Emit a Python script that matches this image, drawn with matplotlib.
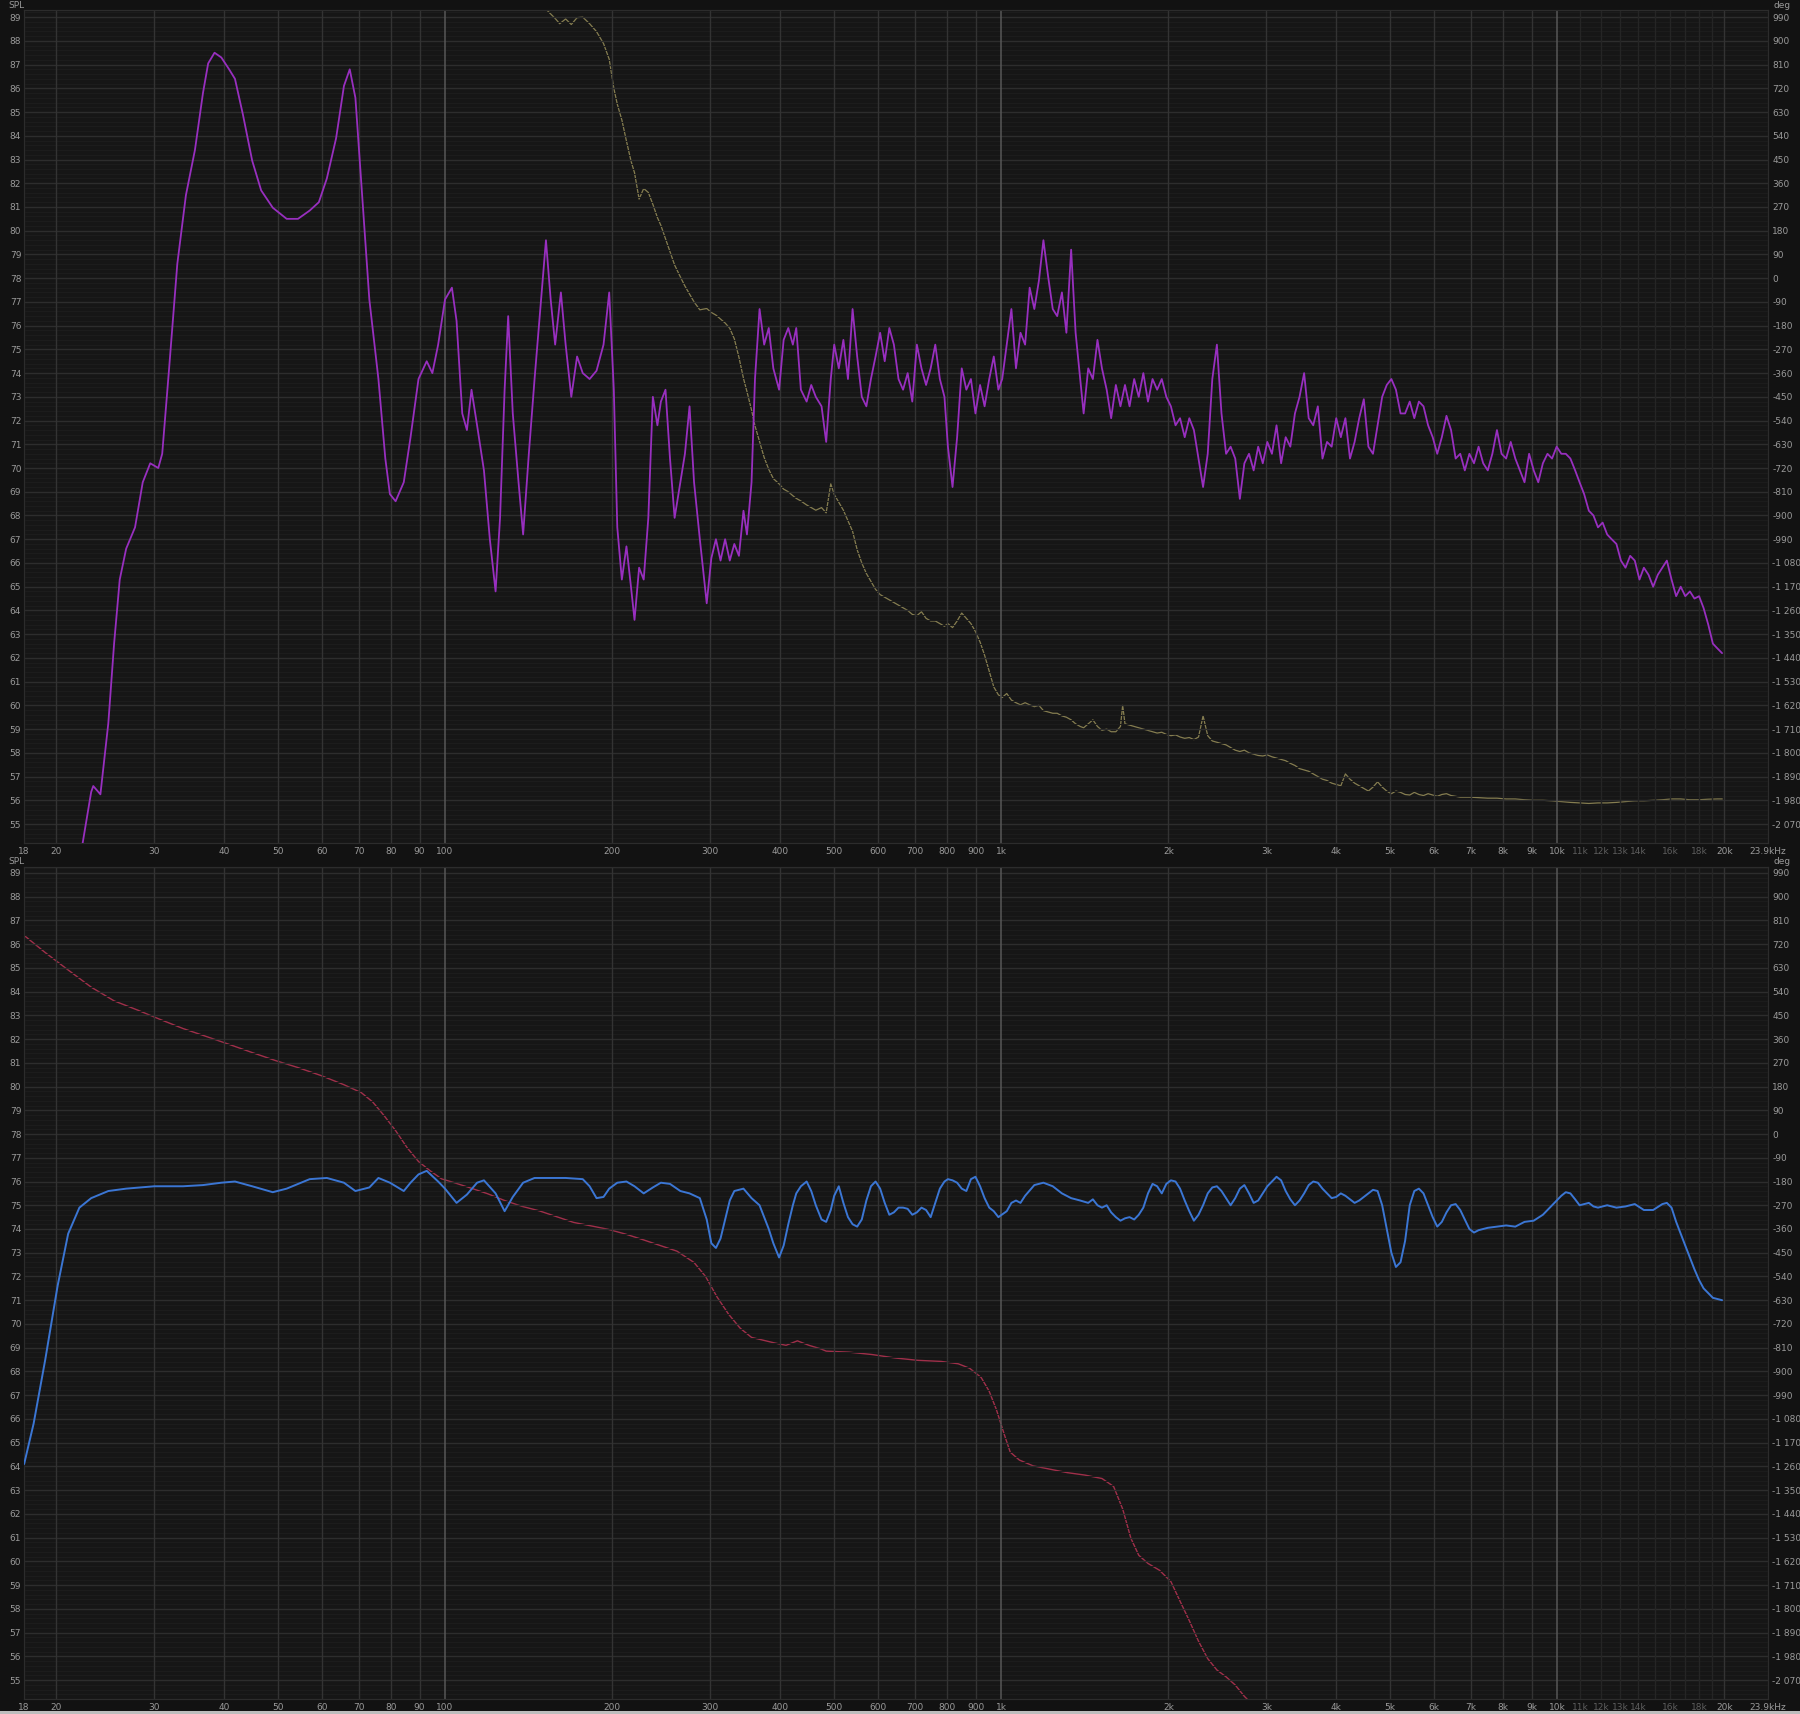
import numpy as np
import matplotlib.pyplot as plt
from matplotlib.patches import Rectangle

# Верхний график: АЧХ (фиолетовая) и фаза (оливковая), пары (Гц, значение)
top_spl = [
    (22.3, 54.2), (23.1, 56.35), (23.3, 56.6), (24.0, 56.25), (24.8, 59.25), (25.4, 62.6),
    (26.0, 65.3), (26.7, 66.6), (27.7, 67.5), (28.6, 69.4), (29.5, 70.2), (30.5, 70.0),
    (31.0, 70.6), (31.9, 74.2), (33.0, 78.6), (34.2, 81.5), (35.5, 83.4), (36.7, 85.8),
    (37.5, 87.05), (38.5, 87.5), (39.6, 87.3), (40.9, 86.8), (41.9, 86.4), (43.3, 84.9),
    (45.0, 82.95), (46.7, 81.7), (49.0, 80.97), (51.9, 80.5), (54.4, 80.5), (57.1, 80.85),
    (59.3, 81.2), (61.3, 82.2), (63.7, 83.9), (65.8, 86.1), (67.4, 86.8), (69.0, 85.6),
    (70.7, 82.0), (73.1, 77.1), (75.9, 73.75), (78.1, 70.4), (79.6, 68.9), (81.5, 68.6),
    (84.3, 69.4), (86.7, 71.3), (89.6, 73.75), (92.7, 74.5), (94.9, 74.0), (97.2, 75.2),
    (100, 77.1), (102.9, 77.6), (104.9, 76.2), (107.4, 72.3), (109.5, 71.6), (111.6, 73.3),
    (114.2, 71.8), (117.5, 69.9), (120.4, 67.0), (123.3, 64.8), (125.6, 67.9), (128.0, 73.3),
    (129.9, 76.4), (132.4, 72.3), (135.6, 69.4), (138.2, 67.2), (141.5, 70.6), (144.9, 73.75),
    (148.4, 76.7), (151.9, 79.6), (154.9, 77.1), (157.8, 75.2), (161.6, 77.4), (164.8, 75.2),
    (168.7, 73.0), (172.8, 74.7), (176.9, 74.0), (182.0, 73.75), (187.3, 74.1), (192.8, 75.2),
    (197.4, 77.4), (201.2, 73.3), (204.1, 67.5), (208.0, 65.3), (212.0, 66.7), (216.0, 65.0),
    (219.2, 63.6), (223.4, 65.8), (227.7, 65.3), (232.1, 67.9), (236.5, 73.0), (241.0, 71.8),
    (244.5, 72.8), (249.2, 73.3), (253.9, 70.4), (258.8, 67.9), (265.0, 69.4), (270.1, 70.6),
    (275.3, 72.6), (280.5, 69.4), (287.3, 67.0), (295.6, 64.3), (301.3, 66.2), (307.1, 67.0),
    (313.0, 66.1), (319.0, 67.0), (325.2, 66.1), (331.4, 66.8), (337.8, 66.3), (344.2, 68.2),
    (349.2, 67.2), (355.9, 69.4), (361.0, 73.75), (367.9, 76.7), (375.0, 75.2), (382.2, 75.9),
    (389.5, 74.2), (398.9, 73.3), (406.5, 75.4), (414.4, 75.9), (422.3, 75.2), (428.3, 75.9),
    (436.6, 73.3), (447.1, 72.8), (455.7, 73.5), (464.4, 73.0), (475.6, 72.6), (484.8, 71.1),
    (494.1, 73.75), (501.2, 75.2), (510.8, 74.2), (520.6, 75.4), (530.6, 73.75), (540.8, 76.7),
    (551.2, 74.7), (561.8, 73.0), (572.6, 72.6), (583.5, 73.75), (594.8, 74.7), (606.2, 75.7),
    (617.8, 74.5), (629.7, 75.9), (641.7, 75.2), (654.1, 73.75), (666.6, 73.3), (679.4, 74.0),
    (692.5, 72.8), (705.8, 75.2), (719.4, 74.2), (733.2, 73.5), (747.3, 74.2), (761.7, 75.2),
    (776.3, 73.75), (791.2, 73.0), (802.6, 70.9), (818.1, 69.2), (833.8, 71.3), (849.9, 74.2),
    (866.3, 73.3), (882.9, 73.75), (899.5, 72.3), (917.0, 73.5), (934.3, 72.6), (952.4, 73.75),
    (970.5, 74.7), (989.2, 73.3), (1005, 73.75), (1024, 75.2), (1044, 76.7), (1064, 74.2),
    (1084, 75.7), (1105, 75.2), (1126, 77.6), (1148, 76.7), (1170, 77.9), (1192, 79.6),
    (1215, 78.1), (1239, 76.7), (1262, 76.4), (1287, 77.4), (1311, 75.7), (1337, 79.2),
    (1362, 75.7), (1388, 73.75), (1408, 72.3), (1435, 74.2), (1463, 73.75), (1491, 75.4),
    (1519, 74.2), (1549, 73.3), (1578, 72.1), (1609, 73.5), (1640, 72.6), (1671, 73.5),
    (1703, 72.6), (1736, 73.75), (1769, 73.0), (1803, 74.0), (1838, 72.8), (1873, 73.75),
    (1909, 73.3), (1946, 73.75), (1983, 73.0), (2021, 72.6), (2060, 71.8), (2099, 72.1),
    (2140, 71.3), (2181, 72.1), (2223, 71.6), (2266, 70.4), (2309, 69.2), (2354, 70.6),
    (2399, 73.75), (2445, 75.2), (2492, 72.3), (2540, 70.6), (2588, 70.9), (2638, 70.4),
    (2689, 68.7), (2740, 70.2), (2793, 70.6), (2847, 69.9), (2901, 70.9), (2957, 70.2),
    (3013, 71.1), (3071, 70.6), (3130, 71.8), (3190, 70.2), (3251, 71.3), (3314, 70.9),
    (3378, 72.3), (3443, 73.0), (3509, 74.0), (3576, 72.1), (3644, 71.8), (3714, 72.6),
    (3786, 70.4), (3858, 71.1), (3933, 70.9), (4008, 72.1), (4085, 71.3), (4163, 72.1),
    (4243, 70.4), (4325, 71.1), (4408, 72.1), (4493, 72.9), (4579, 70.9), (4667, 70.6),
    (4757, 71.8), (4848, 73.0), (4941, 73.5), (5036, 73.75), (5132, 73.3), (5231, 72.3),
    (5331, 72.3), (5434, 72.8), (5538, 72.1), (5644, 72.8), (5753, 72.6), (5863, 71.8),
    (5976, 71.3), (6090, 70.6), (6207, 71.3), (6327, 72.2), (6448, 71.6), (6572, 70.4),
    (6698, 70.6), (6826, 69.9), (6957, 70.6), (7091, 70.2), (7227, 70.9), (7366, 70.2),
    (7507, 69.9), (7651, 70.6), (7798, 71.6), (7948, 70.6), (8100, 70.4), (8256, 71.1),
    (8414, 70.4), (8576, 69.9), (8741, 69.4), (8909, 70.6), (9080, 69.9), (9254, 69.4),
    (9432, 70.2), (9613, 70.6), (9797, 70.4), (9986, 70.9), (10180, 70.6), (10370, 70.6),
    (10570, 70.4), (10780, 69.9), (10980, 69.4), (11190, 68.9), (11410, 68.2), (11630, 68.0),
    (11850, 67.5), (12080, 67.7), (12310, 67.2), (12540, 67.0), (12790, 66.8), (13030, 66.1),
    (13280, 65.8), (13540, 66.3), (13800, 66.1), (14070, 65.3), (14330, 65.8), (14610, 65.5),
    (14890, 65.0), (15180, 65.5), (15470, 65.8), (15760, 66.1), (16070, 65.3), (16380, 64.6),
    (16690, 65.0), (17010, 64.6), (17340, 64.8), (17670, 64.5), (18010, 64.6), (18350, 64.1),
    (18710, 63.4), (19070, 62.6), (19430, 62.4), (19810, 62.2),
]

top_phase = [
    (151.9, 1020), (157.8, 985), (160.8, 965), (164.8, 983), (168.7, 962), (172.8, 988),
    (176.9, 990), (182.0, 965), (187.3, 935), (192.8, 890), (197.4, 830), (201.2, 720),
    (204.1, 660), (208.0, 600), (212.0, 520), (216.0, 445), (219.2, 400), (223.4, 300),
    (227.7, 340), (232.1, 325), (236.5, 280), (241.0, 230), (244.5, 200), (249.2, 150),
    (253.9, 100), (258.8, 50), (265.0, 5), (270.1, -30), (275.3, -60), (280.5, -90),
    (287.3, -120), (295.6, -115), (301.3, -130), (307.1, -140), (313.0, -155), (319.0, -170),
    (325.2, -190), (331.4, -230), (337.8, -300), (344.2, -380), (349.2, -430), (355.9, -500),
    (361.0, -560), (367.9, -620), (375.0, -680), (382.2, -725), (389.5, -760), (398.9, -780),
    (406.5, -800), (414.4, -810), (422.3, -825), (428.3, -835), (436.6, -845), (447.1, -860),
    (455.7, -870), (464.4, -880), (475.6, -870), (484.8, -890), (494.1, -780), (501.2, -820),
    (510.8, -850), (520.6, -880), (530.6, -920), (540.8, -960), (551.2, -1030), (561.8, -1080),
    (572.6, -1120), (583.5, -1150), (594.8, -1180), (606.2, -1200), (617.8, -1210), (629.7, -1220),
    (641.7, -1230), (654.1, -1240), (666.6, -1250), (679.4, -1260), (692.5, -1275), (705.8, -1280),
    (719.4, -1265), (733.2, -1290), (747.3, -1300), (761.7, -1300), (776.3, -1310), (791.2, -1320),
    (802.6, -1310), (818.1, -1325), (833.8, -1300), (849.9, -1270), (866.3, -1290), (882.9, -1310),
    (899.5, -1340), (917.0, -1380), (934.3, -1430), (952.4, -1490), (970.5, -1550), (989.2, -1580),
    (1005, -1590), (1024, -1575), (1044, -1600), (1064, -1610), (1084, -1618), (1105, -1610),
    (1126, -1618), (1148, -1625), (1170, -1620), (1192, -1640), (1215, -1645), (1239, -1650),
    (1262, -1650), (1287, -1660), (1311, -1665), (1337, -1675), (1362, -1690), (1388, -1700),
    (1408, -1705), (1435, -1690), (1463, -1675), (1491, -1700), (1519, -1715), (1549, -1710),
    (1578, -1720), (1609, -1720), (1640, -1700), (1655, -1620), (1671, -1690), (1703, -1695),
    (1736, -1700), (1769, -1705), (1803, -1710), (1838, -1715), (1873, -1720), (1909, -1725),
    (1946, -1722), (1983, -1730), (2021, -1735), (2060, -1732), (2099, -1740), (2140, -1745),
    (2181, -1742), (2223, -1750), (2266, -1740), (2309, -1660), (2354, -1735), (2399, -1755),
    (2445, -1760), (2492, -1765), (2540, -1770), (2588, -1780), (2638, -1790), (2689, -1795),
    (2740, -1790), (2793, -1800), (2847, -1805), (2901, -1810), (2957, -1812), (3013, -1808),
    (3071, -1815), (3130, -1820), (3190, -1825), (3251, -1830), (3314, -1840), (3378, -1848),
    (3443, -1860), (3509, -1865), (3576, -1870), (3644, -1880), (3714, -1890), (3786, -1900),
    (3858, -1905), (3933, -1915), (4008, -1920), (4085, -1925), (4163, -1880), (4243, -1900),
    (4325, -1915), (4408, -1925), (4493, -1935), (4579, -1945), (4667, -1930), (4757, -1910),
    (4848, -1930), (4941, -1945), (5036, -1955), (5132, -1945), (5231, -1950), (5331, -1958),
    (5434, -1960), (5538, -1950), (5644, -1958), (5753, -1962), (5863, -1955), (5976, -1960),
    (6090, -1965), (6207, -1958), (6327, -1955), (6448, -1962), (6572, -1965), (6698, -1968),
    (6957, -1968), (7227, -1970), (7507, -1972), (7798, -1972), (8100, -1975), (8414, -1975),
    (8741, -1978), (9080, -1980), (9432, -1980), (9797, -1982), (10180, -1985), (10570, -1988),
    (10980, -1990), (11410, -1992), (11850, -1990), (12310, -1990), (12790, -1988), (13280, -1985),
    (13800, -1982), (14330, -1982), (14890, -1980), (15470, -1978), (16070, -1975), (16690, -1975),
    (17340, -1978), (18010, -1978), (18710, -1976), (19430, -1975), (19810, -1975),
]

# Нижний график: АЧХ (синяя) и фаза (красная)
bot_spl = [
    (17.5, 64.1), (18.2, 65.8), (19.1, 68.5), (20.1, 71.6), (21.0, 73.8), (22.0, 74.9),
    (23.1, 75.3), (24.8, 75.6), (26.7, 75.7), (30.0, 75.8), (33.8, 75.8), (36.7, 75.85),
    (39.6, 75.95), (41.9, 76.0), (45.0, 75.8), (49.0, 75.55), (51.9, 75.7), (57.1, 76.1),
    (61.3, 76.15), (65.8, 75.95), (69.0, 75.6), (73.1, 75.75), (75.9, 76.15), (79.6, 75.95),
    (84.3, 75.6), (86.7, 75.95), (89.6, 76.3), (92.7, 76.45), (97.2, 76.0), (100, 75.7),
    (104.9, 75.1), (109.5, 75.45), (114.2, 75.95), (117.5, 76.05), (123.3, 75.5), (128.0, 74.75),
    (132.4, 75.35), (138.2, 75.95), (144.9, 76.15), (154.9, 76.15), (164.8, 76.15), (176.9, 76.1),
    (182.0, 75.8), (187.3, 75.3), (192.8, 75.35), (197.4, 75.7), (204.1, 75.95), (212.0, 76.0),
    (219.2, 75.8), (227.7, 75.5), (236.5, 75.75), (244.5, 75.95), (253.9, 75.9), (265.0, 75.6),
    (275.3, 75.5), (287.3, 75.3), (295.6, 74.4), (301.3, 73.4), (307.1, 73.2), (313.0, 73.6),
    (319.0, 74.4), (325.2, 75.2), (331.4, 75.6), (344.2, 75.7), (355.9, 75.3), (367.9, 75.0),
    (382.2, 74.0), (389.5, 73.4), (398.9, 72.8), (406.5, 73.3), (414.4, 74.2), (422.3, 75.0),
    (428.3, 75.5), (436.6, 75.8), (447.1, 76.0), (455.7, 75.6), (464.4, 75.0), (475.6, 74.4),
    (484.8, 74.3), (494.1, 74.8), (501.2, 75.4), (510.8, 75.8), (520.6, 75.1), (530.6, 74.5),
    (540.8, 74.2), (551.2, 74.1), (561.8, 74.4), (572.6, 75.2), (583.5, 75.8), (594.8, 76.0),
    (606.2, 75.7), (617.8, 75.1), (629.7, 74.6), (641.7, 74.7), (654.1, 74.9), (666.6, 74.9),
    (679.4, 74.85), (692.5, 74.6), (705.8, 74.7), (719.4, 74.9), (733.2, 74.8), (747.3, 74.5),
    (761.7, 75.1), (776.3, 75.7), (791.2, 76.0), (802.6, 76.1), (818.1, 76.05), (833.8, 75.95),
    (849.9, 75.7), (866.3, 75.6), (882.9, 76.1), (899.5, 76.2), (917.0, 75.8), (934.3, 75.3),
    (952.4, 74.9), (970.5, 74.75), (989.2, 74.5), (1024, 74.75), (1044, 75.1), (1064, 75.2),
    (1084, 75.1), (1105, 75.4), (1148, 75.85), (1192, 75.95), (1239, 75.8), (1287, 75.5),
    (1337, 75.3), (1388, 75.2), (1435, 75.1), (1463, 75.25), (1491, 75.0), (1519, 74.9),
    (1549, 75.0), (1578, 74.7), (1609, 74.5), (1640, 74.35), (1671, 74.45), (1703, 74.5),
    (1736, 74.4), (1769, 74.6), (1803, 74.9), (1838, 75.5), (1873, 75.9), (1909, 75.8),
    (1946, 75.5), (1983, 75.9), (2021, 76.05), (2060, 76.0), (2099, 75.7), (2140, 75.2),
    (2181, 74.75), (2223, 74.35), (2266, 74.6), (2309, 75.0), (2354, 75.5), (2399, 75.75),
    (2445, 75.8), (2492, 75.6), (2540, 75.3), (2588, 75.0), (2638, 75.3), (2689, 75.7),
    (2740, 75.85), (2793, 75.5), (2847, 75.1), (2901, 75.2), (2957, 75.5), (3013, 75.8),
    (3071, 76.0), (3130, 76.2), (3190, 76.05), (3251, 75.6), (3314, 75.25), (3378, 75.0),
    (3443, 75.2), (3509, 75.5), (3576, 75.85), (3644, 76.0), (3714, 75.95), (3786, 75.7),
    (3858, 75.5), (3933, 75.3), (4008, 75.35), (4085, 75.5), (4163, 75.4), (4243, 75.25),
    (4325, 75.1), (4408, 75.2), (4493, 75.35), (4579, 75.5), (4667, 75.65), (4757, 75.6),
    (4848, 75.0), (4941, 74.0), (5036, 73.0), (5132, 72.4), (5231, 72.6), (5331, 73.5),
    (5434, 75.0), (5538, 75.6), (5644, 75.7), (5753, 75.5), (5863, 75.0), (5976, 74.5),
    (6090, 74.1), (6207, 74.3), (6327, 74.7), (6448, 75.0), (6572, 75.05), (6698, 74.8),
    (6826, 74.4), (6957, 74.0), (7091, 73.85), (7227, 73.95), (7507, 74.05), (7798, 74.1),
    (8100, 74.15), (8414, 74.1), (8741, 74.3), (9080, 74.35), (9432, 74.6), (9797, 75.0),
    (10180, 75.4), (10370, 75.55), (10570, 75.5), (10780, 75.25), (10980, 75.0), (11190, 75.05),
    (11410, 75.1), (11630, 74.95), (11850, 74.9), (12310, 75.0), (12790, 74.9), (13280, 74.95),
    (13800, 75.05), (14330, 74.8), (14890, 74.8), (15470, 75.05), (15760, 75.1), (16070, 74.9),
    (16380, 74.3), (16690, 73.8), (17010, 73.3), (17340, 72.8), (17670, 72.3), (18010, 71.85),
    (18350, 71.5), (18710, 71.3), (19070, 71.1), (19430, 71.05), (19810, 71.0),
]

bot_phase = [
    (17.5, 753), (19.1, 688), (21.0, 622), (23.1, 557), (25.4, 505), (28.0, 470),
    (30.7, 435), (33.8, 400), (37.2, 370), (40.9, 340), (45.0, 309), (49.5, 279),
    (54.4, 252), (59.8, 222), (65.8, 187), (70.7, 157), (74.1, 122), (77.7, 70),
    (81.5, 13), (85.5, -52), (89.6, -104), (94.0, -139), (98.6, -170), (103.4, -183),
    (111.0, -204), (119.2, -226), (128.0, -252), (137.5, -274), (147.7, -291), (158.6, -313),
    (170.3, -335), (182.9, -348), (196.4, -361), (211.0, -379), (226.6, -400), (243.3, -422),
    (261.3, -444), (280.5, -487), (294.2, -540), (308.6, -618), (323.6, -683), (339.5, -736),
    (355.9, -771), (391.4, -792), (410.5, -801), (430.3, -784), (451.4, -801), (473.3, -814),
    (484.8, -823), (533.1, -827), (586.3, -836), (644.8, -849), (709.1, -858), (779.8, -862),
    (837.5, -871), (878.2, -888), (921.1, -923), (952.1, -975), (981.2, -1045), (1014, -1140),
    (1039, -1206), (1079, -1236), (1142, -1258), (1227, -1271), (1318, -1284), (1415, -1293),
    (1519, -1306), (1594, -1336), (1656, -1423), (1712, -1532), (1769, -1597), (1838, -1628),
    (1928, -1654), (2021, -1697), (2099, -1771), (2181, -1845), (2266, -1923), (2354, -1989),
    (2445, -2032), (2540, -2058), (2638, -2089), (2740, -2132), (2819, -2158),
]

spl_ticks = list(range(55, 90))
deg_ticks = list(range(-2070, 991, 90))
freq_ticks = [17.49, 20, 30, 40, 50, 60, 70, 80, 90, 100, 200, 300, 400, 500, 600, 700, 800, 900,
              1000, 2000, 3000, 4000, 5000, 6000, 7000, 8000, 9000, 10000,
              11000, 12000, 13000, 14000, 16000, 18000, 20000, 23960]
freq_labels = ['18', '20', '30', '40', '50', '60', '70', '80', '90', '100', '200', '300', '400',
               '500', '600', '700', '800', '900', '1k', '2k', '3k', '4k', '5k', '6k', '7k', '8k',
               '9k', '10k', '11k', '12k', '13k', '14k', '16k', '18k', '20k', '23.9kHz']
dim_labels = ['11k', '12k', '13k', '14k', '16k', '18k']

BG = '#121212'
PLOT_BG = '#161616'
TXT = '#9a9a9a'

plt.rcParams['font.family'] = ['DejaVu Sans']

W, H = 1800, 1714
fig = plt.figure(figsize=(W / 100, H / 100), dpi=100, facecolor=BG)


def make_panel(top_px, bottom_px, ylo, yhi, spl, spl_color, spl_lw, phase, phase_color, phase_lw):
    ax = fig.add_axes([24 / W, 1 - bottom_px / H, 1744 / W, (bottom_px - top_px) / H])
    ax.set_facecolor(PLOT_BG)
    ax.set_xscale('log')
    ax.set_xlim(17.49, 23960)
    ax.set_ylim(ylo, yhi)

    # горизонтальная сетка: мелкая и основная
    for v in np.arange(54.2, 89.4, 0.2):
        ax.axhline(v, color='#1d1d1d', lw=0.7, zorder=0)
    for v in spl_ticks:
        ax.axhline(v, color='#2d2d2d', lw=1.0, zorder=0.5)

    # вертикальная сетка
    grid_f = [20, 30, 40, 50, 60, 70, 80, 90, 200, 300, 400, 500, 600, 700, 800, 900,
              2000, 3000, 4000, 5000, 6000, 7000, 8000, 9000, 20000]
    for f in grid_f:
        ax.axvline(f, color='#333333', lw=1.0, zorder=0.5)
    for f in [11000, 12000, 13000, 14000, 15000, 16000, 17000, 18000, 19000]:
        ax.axvline(f, color='#252525', lw=1.0, zorder=0.5)
    for f in [100, 1000, 10000]:
        ax.axvline(f, color='#575757', lw=1.1, zorder=0.6)

    f_s, v_s = zip(*spl)
    ax.plot(f_s, v_s, color=spl_color, lw=spl_lw, zorder=3,
            solid_joinstyle='round', solid_capstyle='round')

    ax.set_yticks(spl_ticks)
    ax.set_yticklabels([str(v) for v in spl_ticks])
    ax.set_xticks(freq_ticks)
    ax.set_xticklabels(freq_labels)
    ax.minorticks_off()
    ax.tick_params(axis='both', length=0, labelsize=6.5, colors=TXT)
    ax.tick_params(axis='y', pad=2)
    ax.tick_params(axis='x', pad=3)
    for lab in ax.get_xticklabels():
        if lab.get_text() in dim_labels:
            lab.set_color('#5e5e5e')
    for s in ax.spines.values():
        s.set_color('#2c2c2c')

    tw = ax.twinx()
    tw.set_ylim((ylo - 78) * 90, (yhi - 78) * 90)
    f_p, v_p = zip(*phase)
    tw.plot(f_p, v_p, color=phase_color, lw=phase_lw, zorder=2, solid_joinstyle='round')
    tw.set_yticks(deg_ticks)
    tw.set_yticklabels([f'{v:,}'.replace(',', ' ') for v in deg_ticks])
    tw.tick_params(axis='y', length=0, labelsize=6.5, colors=TXT, pad=3)
    for s in tw.spines.values():
        s.set_color('#2c2c2c')
    ax.set_zorder(tw.get_zorder() + 1)
    ax.patch.set_visible(False)
    tw.patch.set_visible(True)
    tw.patch.set_facecolor(PLOT_BG)
    return ax


make_panel(10, 843, 54.2, 89.3, top_spl, '#982fbf', 1.3, top_phase, '#857d50', 0.9)
make_panel(867, 1699, 54.2, 89.25, bot_spl, '#3b76d4', 1.4, bot_phase, '#a02f4a', 1.0)

for y in (5, 861):
    fig.text(8 / W, 1 - y / H, 'SPL', color=TXT, fontsize=6.5, va='center', ha='left')
    fig.text(1773 / W, 1 - y / H, 'deg', color=TXT, fontsize=6.5, va='center', ha='left')

fig.patches.append(Rectangle((0, 0), 1, 3 / H, transform=fig.transFigure,
                             facecolor='#bdbdbd', edgecolor='none'))

fig.savefig('out.png', dpi=100, facecolor=BG)
